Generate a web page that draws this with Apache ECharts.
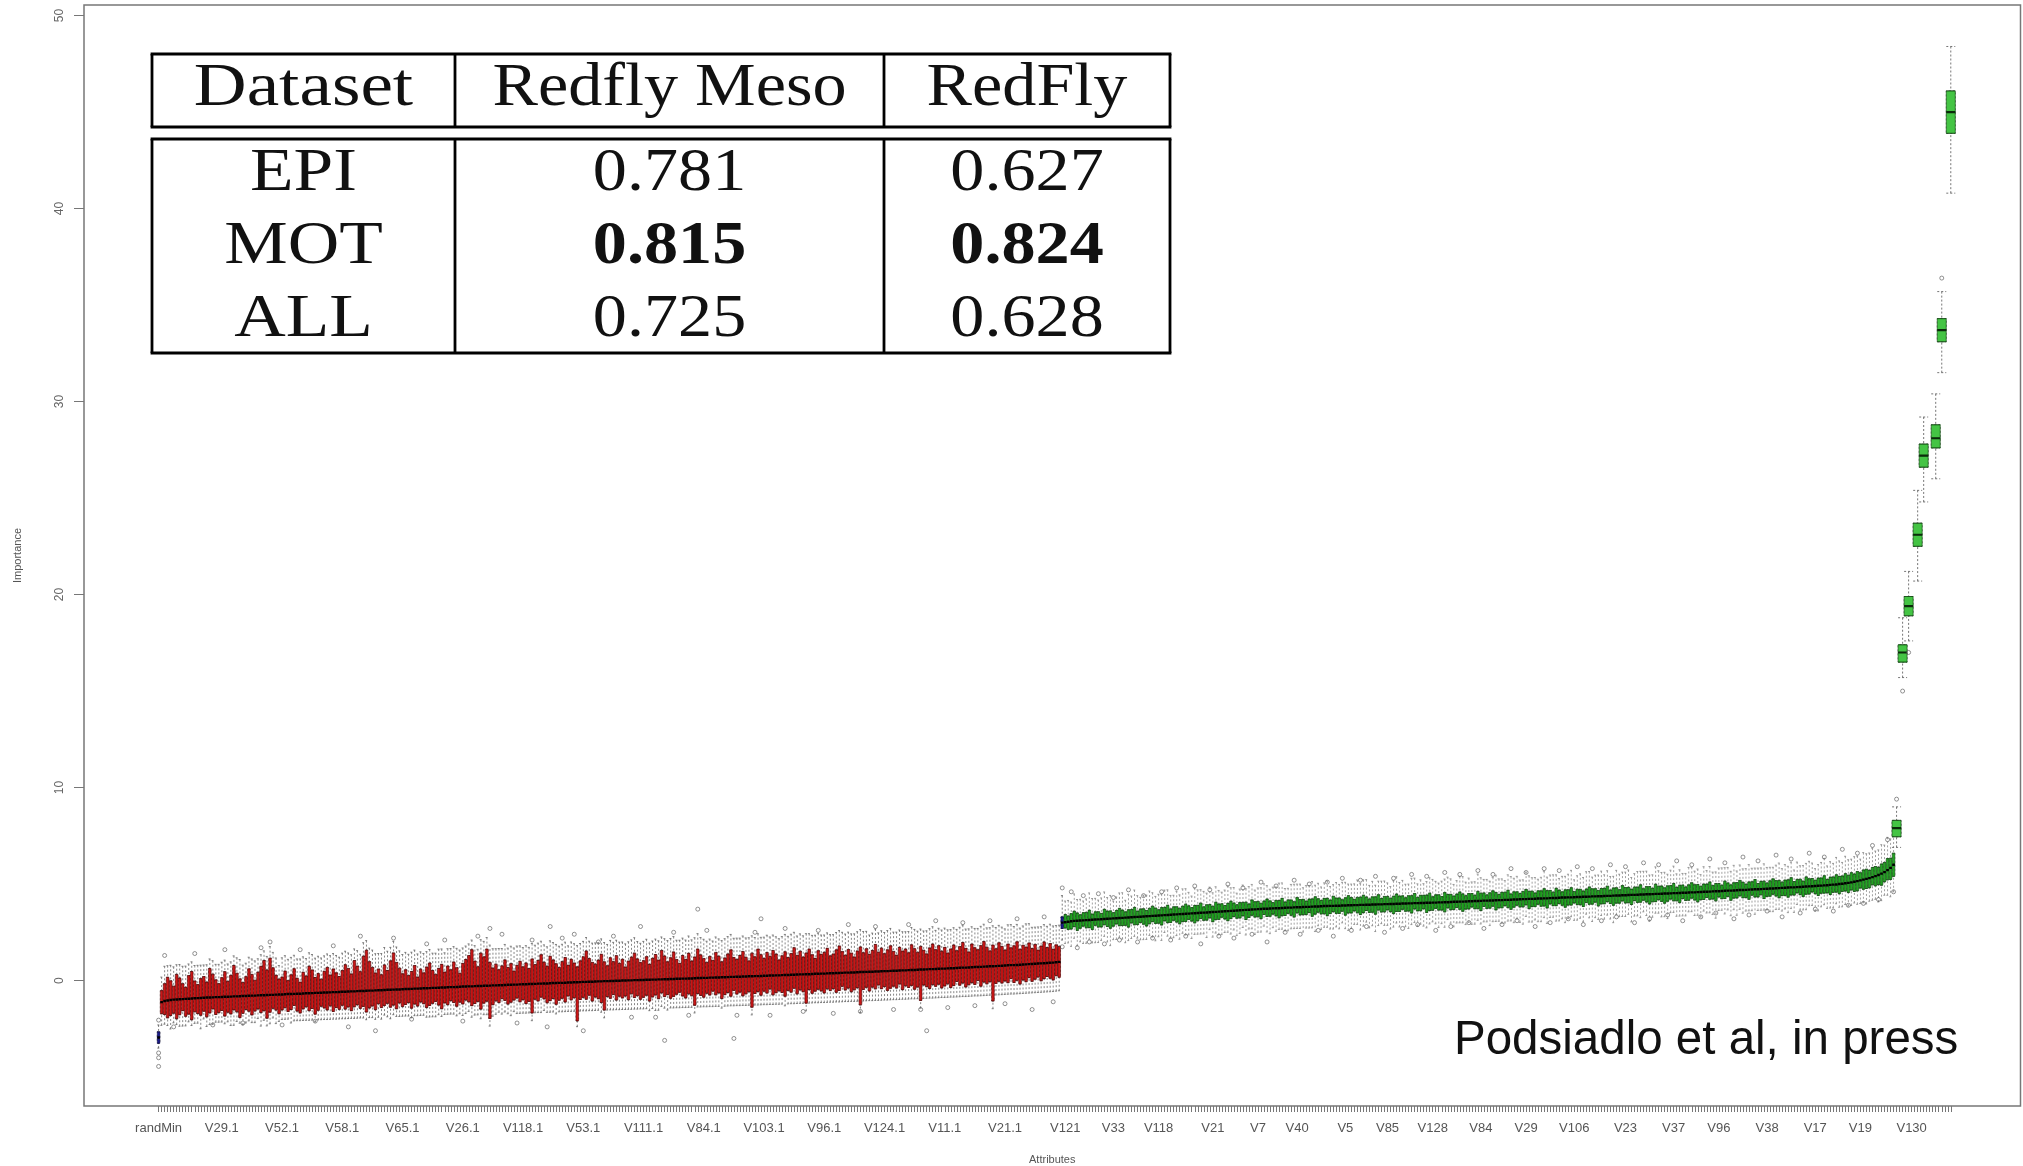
<!DOCTYPE html>
<html>
<head>
<meta charset="utf-8">
<title>Attribute importance</title>
<script src="https://cdn.jsdelivr.net/npm/echarts@6/dist/echarts.min.js"></script>
<style>
  html, body { margin: 0; padding: 0; background: #fff; }
  #chart { width: 2023px; height: 1166px; }
</style>
</head>
<body>
<div id="chart"></div>
<script>
// ---------------- data ----------------
// x-axis labels that are printed, and the attribute position each one sits under
const tickLabels = ['randMin','V29.1','V52.1','V58.1','V65.1','V26.1','V118.1','V53.1','V111.1','V84.1',
  'V103.1','V96.1','V124.1','V11.1','V21.1','V121','V33','V118','V21','V7','V40','V5','V85','V128',
  'V84','V29','V106','V23','V37','V96','V38','V17','V19','V130'];
const tickLabelAt = [0,21,41,61,81,101,121,141,161,181,201,221,241,261,281,301,317,332,350,365,378,
  394,408,423,439,454,470,487,503,518,534,550,565,582];
const yTicks = [0, 10, 20, 30, 40, 50];
const attributeCount = 596;

// shadow attributes (randMin, randMax)
const shadowIdx = [0, 300];
const shadowLo  = [-3.5, 2.1];
const shadowQ1  = [-3.25, 2.7];
const shadowMed = [-2.95, 3.0];
const shadowQ3  = [-2.65, 3.3];
const shadowHi  = [-2.3, 4.4];

// rejected attributes (positions 1..299): medians and box / whisker extents
const redMedian = [
-1.12,-1.06,-1.03,-1.01,-0.99,-0.98,-0.97,-0.96,-0.95,-0.94,
-0.93,-0.92,-0.91,-0.90,-0.89,-0.88,-0.88,-0.87,-0.86,-0.86,
-0.85,-0.84,-0.84,-0.83,-0.82,-0.82,-0.81,-0.80,-0.80,-0.79,
-0.78,-0.78,-0.77,-0.76,-0.76,-0.75,-0.74,-0.74,-0.73,-0.72,
-0.72,-0.71,-0.70,-0.70,-0.69,-0.68,-0.68,-0.67,-0.66,-0.66,
-0.65,-0.64,-0.64,-0.63,-0.62,-0.62,-0.61,-0.60,-0.60,-0.59,
-0.58,-0.58,-0.57,-0.56,-0.56,-0.55,-0.54,-0.54,-0.53,-0.52,
-0.52,-0.51,-0.50,-0.50,-0.49,-0.48,-0.48,-0.47,-0.46,-0.46,
-0.45,-0.44,-0.44,-0.43,-0.42,-0.42,-0.41,-0.40,-0.40,-0.39,
-0.38,-0.38,-0.37,-0.36,-0.36,-0.35,-0.34,-0.34,-0.33,-0.32,
-0.31,-0.31,-0.30,-0.30,-0.29,-0.28,-0.28,-0.27,-0.27,-0.26,
-0.25,-0.25,-0.24,-0.24,-0.23,-0.22,-0.22,-0.21,-0.21,-0.20,
-0.19,-0.19,-0.18,-0.18,-0.17,-0.16,-0.16,-0.15,-0.15,-0.14,
-0.13,-0.13,-0.12,-0.12,-0.11,-0.10,-0.10,-0.09,-0.09,-0.08,
-0.07,-0.07,-0.06,-0.06,-0.05,-0.04,-0.04,-0.03,-0.03,-0.02,
-0.02,-0.01,-0.01,0.00,0.00,0.01,0.01,0.02,0.02,0.03,
0.03,0.04,0.04,0.05,0.05,0.06,0.06,0.07,0.07,0.08,
0.08,0.09,0.09,0.10,0.10,0.11,0.11,0.12,0.13,0.13,
0.14,0.14,0.15,0.15,0.16,0.16,0.17,0.17,0.18,0.19,
0.19,0.20,0.20,0.21,0.21,0.22,0.22,0.23,0.23,0.24,
0.25,0.25,0.26,0.26,0.27,0.27,0.28,0.29,0.29,0.30,
0.30,0.31,0.32,0.32,0.33,0.33,0.34,0.35,0.35,0.36,
0.36,0.37,0.38,0.38,0.39,0.39,0.40,0.41,0.41,0.42,
0.42,0.43,0.44,0.44,0.45,0.46,0.46,0.47,0.47,0.48,
0.49,0.49,0.50,0.51,0.51,0.52,0.53,0.53,0.54,0.55,
0.55,0.56,0.57,0.57,0.58,0.59,0.59,0.60,0.61,0.62,
0.62,0.63,0.64,0.64,0.65,0.66,0.67,0.67,0.68,0.69,
0.70,0.70,0.71,0.72,0.73,0.74,0.74,0.75,0.76,0.77,
0.78,0.79,0.80,0.80,0.81,0.82,0.83,0.84,0.85,0.86,
0.87,0.88,0.89,0.90,0.91,0.92,0.93,0.95,0.97];
// upper quartile minus median
const redBoxUp = [
0.6,0.9,1.2,1.0,0.7,1.3,1.1,0.8,0.6,1.2,1.4,0.9,0.7,1.0,1.1,0.8,1.5,1.2,0.9,0.7,
1.0,1.3,0.8,1.1,1.6,1.2,0.9,0.7,1.0,1.4,1.1,0.8,1.2,1.5,1.8,1.3,1.9,1.4,1.0,0.8,
0.9,1.2,0.7,1.0,1.3,0.8,0.6,1.1,0.9,1.4,1.2,0.8,1.0,0.7,1.1,1.3,0.9,1.2,1.0,0.8,
1.1,1.4,1.2,0.9,1.6,1.3,1.0,1.8,2.1,1.5,1.2,0.9,1.1,0.8,1.3,1.0,1.5,1.9,1.4,1.1,
0.8,1.0,0.7,0.9,1.2,0.6,1.0,0.8,1.1,1.3,0.9,0.7,1.0,1.2,0.8,1.1,0.9,1.3,1.0,0.7,
1.2,1.4,1.6,1.9,1.3,1.0,1.7,1.5,1.9,1.2,0.9,1.1,0.8,1.0,1.3,0.9,1.1,0.7,1.0,1.2,
0.9,1.1,0.8,1.3,1.0,1.2,1.5,1.1,0.9,1.4,1.2,1.0,0.8,1.1,1.3,0.9,1.2,1.0,0.8,1.1,
1.3,1.6,1.2,1.0,0.9,1.1,1.4,1.0,0.8,1.2,1.0,1.3,0.9,1.1,0.7,1.0,1.2,1.4,1.1,0.9,
1.0,1.2,0.8,1.1,1.3,1.0,1.5,1.2,0.9,1.1,1.4,1.0,0.8,1.2,1.0,1.3,0.9,1.1,1.5,1.2,
1.0,0.8,1.1,0.9,1.3,1.1,0.8,1.0,1.2,1.4,1.0,0.9,1.1,1.3,1.0,0.8,1.2,1.0,1.4,1.1,
0.9,1.2,1.0,1.3,1.1,0.8,1.0,1.2,0.9,1.1,1.4,1.0,1.2,0.9,1.1,1.3,1.0,0.8,1.2,1.0,
1.1,1.3,0.9,1.0,1.2,1.4,1.1,0.9,1.2,1.0,0.8,1.1,1.3,1.0,1.2,0.9,1.1,1.4,1.0,1.2,
0.9,1.1,1.3,1.0,0.8,1.2,1.0,1.1,0.9,1.3,1.1,0.9,1.2,1.0,0.8,1.1,1.3,1.0,1.2,0.9,
1.1,0.8,1.0,1.2,0.9,1.1,1.3,1.0,0.8,1.2,1.0,0.9,1.1,1.3,1.0,0.8,1.1,0.9,1.2,1.0,
0.8,1.1,0.9,1.0,1.2,0.8,1.0,0.9,1.1,0.8,1.0,0.7,0.9,1.1,0.8,1.0,0.7,0.9,0.8];
// median minus lower quartile
const redBoxDown = [
0.6,0.7,0.9,0.8,0.7,1.0,0.8,0.6,0.9,0.8,1.1,0.7,0.8,0.9,0.7,1.0,0.8,0.6,0.9,0.8,
0.7,1.0,0.8,0.9,0.7,0.8,1.1,0.9,0.7,0.8,1.0,0.8,0.7,0.9,0.8,1.2,0.9,0.7,0.8,1.0,
0.8,0.7,0.9,0.8,0.6,0.9,1.0,0.8,0.7,0.9,0.8,1.1,0.9,0.7,0.8,0.9,0.7,1.0,0.8,0.9,
0.7,0.9,0.8,1.0,0.8,0.7,0.9,0.8,1.1,0.9,0.8,1.0,0.7,0.9,0.8,0.7,0.9,0.8,1.0,0.7,
0.9,0.8,0.7,1.0,0.8,0.9,0.7,0.8,1.0,0.9,0.8,0.7,0.9,1.1,0.8,0.9,0.7,0.8,1.0,0.8,
0.9,0.7,0.8,1.0,0.9,0.8,1.2,0.9,0.8,1.7,1.0,0.8,0.9,0.7,0.8,1.0,0.9,0.8,0.7,0.9,
0.8,1.0,0.9,1.5,0.8,0.9,0.7,0.8,1.0,0.9,0.8,1.1,0.9,0.8,1.0,0.7,0.9,0.8,2.0,0.9,
0.8,0.9,0.7,1.0,0.8,0.9,1.1,1.5,0.8,0.9,0.7,1.0,0.8,0.9,0.8,1.0,0.7,0.9,0.8,1.0,
0.9,0.8,1.1,0.9,0.8,1.0,0.7,0.9,0.8,1.0,0.9,0.8,0.7,0.9,1.0,0.8,0.9,1.4,0.8,0.9,
1.0,0.8,0.9,0.7,0.9,0.8,1.1,0.9,0.8,1.0,0.7,0.9,0.8,1.0,0.9,0.8,1.6,0.9,0.8,1.0,
0.8,0.9,0.7,1.0,0.9,0.8,0.9,1.1,0.8,0.9,0.7,1.0,0.8,0.9,1.5,0.8,1.0,0.9,0.8,0.9,
1.0,0.8,0.9,0.8,1.0,0.9,0.7,0.9,0.8,1.0,0.9,0.8,1.7,0.9,0.8,1.0,0.8,0.9,0.7,0.9,
0.8,1.0,0.9,0.8,0.9,0.7,1.0,0.8,0.9,0.8,1.0,0.9,1.6,0.8,0.9,1.0,0.8,0.9,0.8,1.0,
0.9,0.8,1.0,0.9,0.7,0.9,0.8,1.0,0.9,0.8,0.9,0.7,1.0,0.8,0.9,0.8,1.8,0.9,0.8,0.9,
0.8,0.9,0.7,0.9,0.8,1.0,0.8,0.9,0.7,0.9,0.8,0.7,0.9,0.8,0.7,0.8,0.9,0.7,0.8];
// upper whisker end minus upper quartile
const redWhiskHi = [
0.7,0.9,0.6,0.8,1.0,0.5,0.7,0.9,1.1,0.6,0.5,0.8,1.0,0.7,0.6,0.9,0.5,0.7,0.8,1.0,
0.8,0.6,0.9,0.7,0.5,0.8,1.0,0.9,0.7,0.6,0.8,1.0,0.7,0.6,0.5,0.7,0.6,0.8,0.9,0.7,
1.0,0.8,1.1,0.9,0.7,1.0,1.2,0.8,0.9,0.7,0.8,1.0,0.9,1.1,0.8,0.7,1.0,0.8,0.9,1.0,
0.9,0.7,0.8,1.0,0.6,0.8,0.9,0.7,0.5,0.7,0.9,1.0,0.8,1.1,0.9,1.0,0.7,0.6,0.8,0.9,
1.0,0.9,1.1,1.0,0.8,1.2,0.9,1.0,0.8,0.7,0.9,1.1,1.0,0.8,1.0,0.9,1.1,0.8,1.0,1.2,
0.8,0.7,0.6,0.5,0.8,0.9,0.7,0.8,0.6,0.9,1.0,0.8,1.1,0.9,0.8,1.0,0.9,1.2,1.0,0.8,
1.0,0.9,1.1,0.8,1.0,0.9,0.7,0.9,1.0,0.8,0.9,1.0,1.1,0.9,0.8,1.0,0.9,1.0,1.1,0.9,
0.8,0.7,0.9,1.0,1.1,0.9,0.8,1.0,1.1,0.9,1.0,0.8,1.1,0.9,1.2,1.0,0.9,0.8,0.9,1.0,
1.0,0.9,1.1,0.9,0.8,1.0,0.7,0.9,1.1,1.0,0.8,1.0,1.2,0.9,1.0,0.9,1.1,1.0,0.8,0.9,
1.0,1.1,0.9,1.0,0.8,0.9,1.1,1.0,0.9,0.8,1.0,1.1,0.9,0.8,1.0,1.2,0.9,1.0,0.8,0.9,
1.1,0.9,1.0,0.8,0.9,1.1,1.0,0.9,1.1,1.0,0.8,1.0,0.9,1.1,1.0,0.8,1.0,1.2,0.9,1.0,
0.9,0.8,1.1,1.0,0.9,0.8,1.0,1.1,0.9,1.0,1.2,1.0,0.9,1.1,0.9,1.0,0.9,0.8,1.0,0.9,
1.1,1.0,0.9,1.0,1.2,0.9,1.0,0.9,1.1,0.9,1.0,1.1,0.9,1.0,1.2,1.0,0.9,1.0,0.9,1.1,
1.0,1.2,1.0,0.9,1.1,1.0,0.9,1.0,1.2,0.9,1.0,1.1,1.0,0.9,1.0,1.2,1.0,1.1,0.9,1.0,
1.1,1.0,1.2,1.0,0.9,1.1,1.0,1.2,1.0,1.1,0.9,1.2,1.0,0.9,1.1,1.0,1.2,1.0,1.1];
// lower quartile minus lower whisker end
const redWhiskLo = [
0.6,0.5,0.4,0.7,0.5,0.3,0.6,0.8,0.5,0.4,0.3,0.6,0.5,0.7,0.4,0.5,0.6,0.8,0.4,0.5,
0.6,0.4,0.5,0.6,0.8,0.5,0.3,0.6,0.7,0.5,0.4,0.6,0.5,0.7,0.5,0.4,0.6,0.5,0.7,0.4,
0.5,0.6,0.4,0.7,0.8,0.5,0.4,0.6,0.7,0.5,0.6,0.4,0.5,0.7,0.6,0.5,0.7,0.4,0.6,0.5,
0.7,0.5,0.6,0.4,0.6,0.7,0.5,0.6,0.4,0.5,0.6,0.5,0.7,0.6,0.5,0.7,0.6,0.5,0.4,0.7,
0.5,0.6,0.7,0.5,0.6,0.5,0.7,0.6,0.5,0.6,0.7,0.8,0.5,0.4,0.6,0.5,0.7,0.6,0.5,0.6,
0.6,0.7,0.5,0.6,0.6,0.7,0.5,0.6,0.7,0.4,0.6,0.7,0.5,0.8,0.6,0.5,0.7,0.6,0.8,0.6,
0.7,0.5,0.6,0.4,0.7,0.6,0.8,0.6,0.5,0.6,0.7,0.5,0.6,0.7,0.5,0.8,0.6,0.7,0.3,0.6,
0.7,0.6,0.8,0.5,0.7,0.6,0.5,0.4,0.7,0.6,0.8,0.5,0.7,0.6,0.7,0.5,0.8,0.6,0.7,0.5,
0.6,0.7,0.5,0.6,0.8,0.6,0.7,0.6,0.8,0.5,0.6,0.7,0.8,0.6,0.5,0.7,0.6,0.4,0.7,0.6,
0.5,0.7,0.6,0.8,0.6,0.7,0.5,0.6,0.7,0.5,0.8,0.6,0.7,0.5,0.6,0.7,0.4,0.6,0.7,0.5,
0.7,0.6,0.8,0.5,0.6,0.7,0.6,0.5,0.7,0.6,0.8,0.5,0.7,0.6,0.4,0.7,0.5,0.6,0.7,0.6,
0.5,0.7,0.6,0.7,0.5,0.6,0.8,0.6,0.7,0.5,0.6,0.7,0.4,0.6,0.7,0.5,0.7,0.6,0.8,0.6,
0.7,0.5,0.6,0.7,0.6,0.8,0.5,0.7,0.6,0.7,0.5,0.6,0.4,0.7,0.6,0.5,0.7,0.6,0.7,0.5,
0.6,0.7,0.5,0.6,0.8,0.6,0.7,0.5,0.6,0.7,0.6,0.8,0.5,0.7,0.6,0.7,0.4,0.6,0.7,0.6,
0.7,0.6,0.8,0.6,0.7,0.5,0.7,0.6,0.8,0.6,0.7,0.8,0.6,0.7,0.8,0.7,0.6,0.8,0.7];

// confirmed attributes (positions 301..576)
const greenMedian = [
3.02,3.05,3.07,3.09,3.10,3.11,3.12,3.13,3.14,3.15,3.16,3.17,3.18,3.19,3.20,3.21,3.22,3.23,3.24,3.25,
3.26,3.27,3.28,3.29,3.30,3.31,3.32,3.33,3.34,3.35,3.36,3.37,3.38,3.39,3.40,3.41,3.42,3.43,3.44,3.45,
3.46,3.47,3.48,3.49,3.50,3.51,3.52,3.53,3.54,3.55,3.56,3.57,3.58,3.59,3.60,3.61,3.62,3.63,3.64,3.65,
3.66,3.67,3.68,3.69,3.70,3.71,3.72,3.72,3.73,3.74,3.75,3.75,3.76,3.77,3.78,3.78,3.79,3.80,3.80,3.81,
3.82,3.82,3.83,3.84,3.84,3.85,3.86,3.86,3.87,3.87,3.88,3.88,3.89,3.89,3.90,3.90,3.91,3.91,3.92,3.92,
3.93,3.93,3.94,3.94,3.95,3.95,3.96,3.96,3.97,3.97,3.98,3.98,3.99,3.99,4.00,4.00,4.01,4.01,4.02,4.02,
4.03,4.03,4.04,4.04,4.05,4.05,4.06,4.06,4.07,4.08,4.08,4.09,4.09,4.10,4.11,4.11,4.12,4.12,4.13,4.14,
4.14,4.15,4.15,4.16,4.17,4.17,4.18,4.18,4.19,4.20,4.20,4.21,4.22,4.22,4.23,4.23,4.24,4.25,4.25,4.26,
4.26,4.27,4.28,4.28,4.29,4.30,4.30,4.31,4.31,4.32,4.33,4.33,4.34,4.34,4.35,4.36,4.36,4.37,4.37,4.38,
4.39,4.39,4.40,4.41,4.41,4.42,4.42,4.43,4.44,4.44,4.45,4.46,4.46,4.47,4.47,4.48,4.49,4.49,4.50,4.51,
4.51,4.52,4.53,4.53,4.54,4.55,4.55,4.56,4.57,4.57,4.58,4.59,4.60,4.60,4.61,4.62,4.63,4.63,4.64,4.65,
4.66,4.66,4.67,4.68,4.69,4.69,4.70,4.71,4.72,4.73,4.73,4.74,4.75,4.76,4.77,4.77,4.78,4.79,4.80,4.81,
4.82,4.83,4.83,4.84,4.85,4.86,4.87,4.88,4.89,4.90,4.91,4.92,4.93,4.94,4.96,4.97,4.98,5.00,5.02,5.04,
5.06,5.09,5.12,5.15,5.19,5.23,5.27,5.31,5.36,5.41,5.47,5.54,5.62,5.72,5.84,6.00];
const greenBoxUp = [
0.4,0.3,0.4,0.5,0.4,0.3,0.4,0.4,0.5,0.3,0.4,0.4,0.3,0.5,0.4,0.4,0.3,0.4,0.5,0.4,
0.3,0.4,0.4,0.5,0.3,0.4,0.4,0.3,0.4,0.5,0.4,0.3,0.4,0.4,0.5,0.3,0.4,0.4,0.3,0.4,
0.5,0.4,0.3,0.4,0.4,0.5,0.3,0.4,0.4,0.3,0.5,0.4,0.4,0.3,0.4,0.5,0.4,0.3,0.4,0.4,
0.4,0.3,0.5,0.4,0.4,0.3,0.4,0.5,0.4,0.3,0.4,0.4,0.5,0.3,0.4,0.4,0.3,0.5,0.4,0.4,
0.3,0.4,0.4,0.5,0.4,0.3,0.4,0.4,0.3,0.5,0.4,0.4,0.3,0.4,0.5,0.4,0.3,0.4,0.4,0.5,
0.4,0.3,0.4,0.4,0.5,0.3,0.4,0.4,0.3,0.4,0.5,0.4,0.4,0.3,0.4,0.4,0.5,0.3,0.4,0.4,
0.4,0.5,0.3,0.4,0.4,0.3,0.5,0.4,0.4,0.3,0.4,0.5,0.4,0.3,0.4,0.4,0.3,0.5,0.4,0.4,
0.3,0.4,0.5,0.4,0.3,0.4,0.4,0.5,0.3,0.4,0.4,0.3,0.4,0.5,0.4,0.4,0.3,0.4,0.4,0.5,
0.4,0.4,0.3,0.5,0.4,0.3,0.4,0.4,0.5,0.3,0.4,0.4,0.3,0.4,0.5,0.4,0.4,0.3,0.4,0.4,
0.5,0.3,0.4,0.4,0.3,0.5,0.4,0.4,0.3,0.4,0.4,0.5,0.3,0.4,0.4,0.3,0.5,0.4,0.4,0.3,
0.4,0.4,0.5,0.3,0.4,0.4,0.3,0.4,0.5,0.4,0.4,0.3,0.4,0.4,0.5,0.3,0.4,0.4,0.3,0.5,
0.4,0.3,0.4,0.4,0.5,0.4,0.3,0.4,0.4,0.5,0.3,0.4,0.4,0.3,0.4,0.5,0.4,0.4,0.3,0.4,
0.4,0.5,0.3,0.4,0.4,0.3,0.5,0.4,0.4,0.3,0.4,0.4,0.5,0.3,0.4,0.4,0.5,0.4,0.4,0.5,
0.4,0.5,0.4,0.5,0.4,0.5,0.5,0.4,0.5,0.5,0.4,0.5,0.5,0.6,0.5,0.6];
const greenBoxDown = [
0.3,0.4,0.4,0.3,0.5,0.4,0.3,0.4,0.4,0.5,0.3,0.4,0.4,0.3,0.4,0.5,0.4,0.3,0.4,0.4,
0.4,0.5,0.3,0.4,0.4,0.3,0.4,0.5,0.4,0.3,0.4,0.4,0.5,0.3,0.4,0.4,0.3,0.4,0.5,0.4,
0.4,0.3,0.4,0.5,0.4,0.3,0.4,0.4,0.3,0.5,0.4,0.4,0.3,0.4,0.5,0.4,0.3,0.4,0.4,0.3,
0.5,0.4,0.3,0.4,0.4,0.5,0.3,0.4,0.4,0.3,0.4,0.5,0.4,0.4,0.3,0.4,0.5,0.3,0.4,0.4,
0.4,0.3,0.5,0.4,0.3,0.4,0.4,0.5,0.4,0.3,0.4,0.4,0.3,0.5,0.4,0.4,0.3,0.4,0.5,0.4,
0.3,0.4,0.4,0.5,0.3,0.4,0.4,0.3,0.4,0.5,0.4,0.4,0.3,0.4,0.4,0.5,0.3,0.4,0.4,0.3,
0.5,0.4,0.4,0.3,0.4,0.4,0.5,0.3,0.4,0.4,0.3,0.4,0.5,0.4,0.4,0.3,0.4,0.4,0.5,0.3,
0.4,0.4,0.3,0.5,0.4,0.4,0.3,0.4,0.5,0.4,0.3,0.4,0.4,0.3,0.5,0.4,0.4,0.3,0.4,0.4,
0.5,0.3,0.4,0.4,0.3,0.4,0.5,0.4,0.4,0.3,0.4,0.4,0.5,0.3,0.4,0.4,0.3,0.5,0.4,0.4,
0.3,0.4,0.5,0.4,0.4,0.3,0.4,0.4,0.5,0.3,0.4,0.4,0.3,0.4,0.5,0.4,0.4,0.3,0.4,0.5,
0.4,0.3,0.4,0.4,0.5,0.3,0.4,0.4,0.3,0.4,0.5,0.4,0.4,0.3,0.4,0.4,0.5,0.3,0.4,0.4,
0.3,0.5,0.4,0.4,0.3,0.4,0.4,0.5,0.3,0.4,0.4,0.3,0.5,0.4,0.4,0.3,0.4,0.5,0.4,0.4,
0.5,0.4,0.4,0.3,0.4,0.5,0.4,0.4,0.3,0.4,0.5,0.4,0.4,0.4,0.5,0.4,0.4,0.5,0.4,0.4,
0.5,0.4,0.5,0.5,0.4,0.5,0.5,0.5,0.4,0.5,0.5,0.6,0.5,0.5,0.6,0.6];
const greenWhiskHi = [
0.7,0.8,0.6,0.9,0.7,0.8,0.6,0.7,0.9,0.8,0.7,0.6,0.8,0.9,0.7,0.8,0.6,0.7,0.8,0.9,
0.6,0.8,0.7,0.9,0.8,0.6,0.7,0.8,0.9,0.7,0.6,0.8,0.7,0.9,0.8,0.7,0.6,0.8,0.7,0.9,
0.8,0.7,0.6,0.9,0.8,0.7,0.8,0.6,0.9,0.7,0.8,0.7,0.6,0.8,0.9,0.7,0.8,0.6,0.7,0.9,
0.7,0.9,0.8,0.6,0.7,0.8,0.9,0.7,0.6,0.8,0.7,0.9,0.8,0.7,0.6,0.8,0.9,0.7,0.8,0.6,
0.8,0.7,0.9,0.6,0.8,0.7,0.8,0.9,0.7,0.6,0.8,0.7,0.9,0.8,0.6,0.7,0.8,0.9,0.7,0.8,
0.9,0.7,0.8,0.6,0.7,0.9,0.8,0.7,0.6,0.8,0.9,0.7,0.8,0.7,0.6,0.9,0.8,0.7,0.8,0.6,
0.7,0.8,0.9,0.7,0.6,0.8,0.7,0.9,0.8,0.6,0.7,0.8,0.9,0.7,0.8,0.6,0.7,0.9,0.8,0.7,
0.8,0.6,0.7,0.9,0.8,0.7,0.6,0.8,0.9,0.7,0.8,0.7,0.6,0.9,0.8,0.7,0.8,0.6,0.7,0.9,
0.7,0.8,0.9,0.7,0.6,0.8,0.7,0.8,0.9,0.6,0.7,0.8,0.7,0.9,0.8,0.6,0.7,0.8,0.9,0.7,
0.8,0.7,0.6,0.9,0.8,0.7,0.8,0.9,0.6,0.7,0.8,0.7,0.9,0.8,0.6,0.7,0.9,0.8,0.7,0.8,
0.6,0.8,0.9,0.7,0.8,0.6,0.7,0.9,0.8,0.7,0.8,0.6,0.9,0.7,0.8,0.7,0.6,0.8,0.9,0.7,
0.8,0.7,0.9,0.6,0.8,0.7,0.8,0.9,0.7,0.6,0.8,0.7,0.9,0.8,0.7,0.6,0.8,0.9,0.7,0.8,
0.7,0.8,0.6,0.9,0.7,0.8,0.7,0.9,0.8,0.6,0.7,0.8,0.9,0.7,0.8,0.7,0.9,0.8,0.7,0.9,
0.8,0.7,0.9,0.8,0.7,0.9,0.8,0.9,1.0,0.8,0.9,1.0,0.9,1.1,1.0,1.2];
const greenWhiskLo = [
0.8,0.7,0.9,0.6,0.8,0.7,0.9,0.8,0.6,0.7,0.9,0.8,0.7,0.6,0.8,0.9,0.7,0.8,0.6,0.7,
0.9,0.7,0.8,0.6,0.7,0.9,0.8,0.7,0.6,0.8,0.9,0.7,0.8,0.6,0.7,0.8,0.9,0.7,0.8,0.6,
0.7,0.8,0.9,0.6,0.7,0.8,0.7,0.9,0.6,0.8,0.7,0.8,0.9,0.7,0.6,0.8,0.7,0.9,0.8,0.6,
0.8,0.6,0.7,0.9,0.8,0.7,0.6,0.8,0.9,0.7,0.8,0.6,0.7,0.8,0.9,0.7,0.6,0.8,0.7,0.9,
0.7,0.8,0.6,0.9,0.7,0.8,0.7,0.6,0.8,0.9,0.7,0.8,0.6,0.7,0.9,0.8,0.7,0.6,0.8,0.7,
0.6,0.8,0.7,0.9,0.8,0.6,0.7,0.8,0.9,0.7,0.6,0.8,0.7,0.8,0.9,0.6,0.7,0.8,0.7,0.9,
0.8,0.7,0.6,0.8,0.9,0.7,0.8,0.6,0.7,0.9,0.8,0.7,0.6,0.8,0.7,0.9,0.8,0.6,0.7,0.8,
0.7,0.9,0.8,0.6,0.7,0.8,0.9,0.7,0.6,0.8,0.7,0.8,0.9,0.6,0.7,0.8,0.7,0.9,0.8,0.6,
0.8,0.7,0.6,0.8,0.9,0.7,0.8,0.7,0.6,0.9,0.8,0.7,0.8,0.6,0.7,0.9,0.8,0.7,0.6,0.8,
0.7,0.8,0.9,0.6,0.7,0.8,0.7,0.6,0.9,0.8,0.7,0.8,0.6,0.7,0.9,0.8,0.6,0.7,0.8,0.7,
0.9,0.7,0.6,0.8,0.7,0.9,0.8,0.6,0.7,0.8,0.7,0.9,0.6,0.8,0.7,0.8,0.9,0.7,0.6,0.8,
0.7,0.8,0.6,0.9,0.7,0.8,0.7,0.6,0.8,0.9,0.7,0.8,0.6,0.7,0.8,0.9,0.7,0.6,0.8,0.7,
0.8,0.7,0.9,0.6,0.8,0.7,0.8,0.6,0.7,0.9,0.8,0.7,0.6,0.8,0.7,0.8,0.6,0.7,0.8,0.7,
0.7,0.8,0.6,0.7,0.8,0.7,0.8,0.7,0.8,0.7,0.9,0.8,0.7,0.8,0.9,0.8];

// the strongest confirmed attributes, each with its own stats
const topIdx = [577, 579, 581, 584, 586, 590, 592, 595];
const topLo  = [6.9, 15.7, 17.6, 20.7, 24.8, 26.0, 31.5, 40.8];
const topQ1  = [7.45, 16.5, 18.9, 22.5, 26.6, 27.6, 33.1, 43.9];
const topMed = [7.9, 17.0, 19.4, 23.1, 27.2, 28.1, 33.7, 45.0];
const topQ3  = [8.3, 17.4, 19.9, 23.7, 27.8, 28.8, 34.3, 46.1];
const topHi  = [9.0, 18.8, 21.2, 25.4, 29.2, 30.4, 35.7, 48.4];

// outlying importance runs: [attribute position, importance]
const shadowOutliers = [[0,-3.75],[0,-4.0],[0,-4.45],[0,-2.05],[300,4.8],[300,1.75]];
const rejectedOutliers = [[2,1.3],[5,-2.4],[12,1.4],[18,-2.3],[22,1.6],[28,-2.2],[34,1.7],[37,2.0],
  [41,-2.3],[47,1.6],[52,-2.1],[58,1.8],[63,-2.4],[67,2.3],[72,-2.6],[78,2.2],[84,-2.0],[89,1.9],
  [95,2.1],[101,-2.1],[106,2.3],[110,2.7],[114,2.4],[119,-2.2],[124,2.1],[129,-2.4],[130,2.8],
  [134,2.2],[138,2.4],[141,-2.6],[146,2.0],[151,2.3],[157,-1.9],[160,2.8],[165,-1.9],[168,-3.1],
  [171,2.5],[176,-1.8],[179,3.7],[182,2.6],[191,-3.0],[192,-1.8],[198,2.5],[200,3.2],[203,-1.8],
  [208,2.7],[214,-1.6],[219,2.6],[224,-1.7],[229,2.9],[233,-1.6],[238,2.8],[244,-1.5],[249,2.9],
  [253,-1.5],[255,-2.6],[258,3.1],[262,-1.4],[267,3.0],[271,-1.3],[276,3.1],[281,-1.2],[285,3.2],
  [290,-1.5],[294,3.3],[297,-1.1]];
const confirmedOutliers = [[303,4.6],[305,1.7],[307,4.4],[309,2.0],[312,4.5],[314,1.9],[317,4.3],
  [319,2.1],[322,4.7],[325,2.0],[327,4.4],[330,2.2],[333,4.6],[336,2.1],[338,4.8],[341,2.3],[344,4.9],
  [346,1.9],[349,4.7],[352,2.3],[355,5.0],[357,2.2],[360,4.8],[363,2.4],[366,5.1],[368,2.0],[371,4.9],
  [374,2.5],[377,5.2],[379,2.4],[382,5.0],[385,2.6],[388,5.1],[390,2.3],[393,5.3],[396,2.6],[399,5.2],
  [401,2.8],[404,5.4],[407,2.5],[410,5.3],[413,2.7],[416,5.5],[418,2.9],[421,5.4],[424,2.6],[427,5.6],
  [429,2.8],[432,5.5],[435,3.0],[438,5.7],[440,2.7],[443,5.5],[446,2.9],[449,5.8],[451,3.1],[454,5.6],
  [457,2.8],[460,5.8],[462,3.0],[465,5.7],[468,3.2],[471,5.9],[473,2.9],[476,5.8],[479,3.1],[482,6.0],
  [484,3.3],[487,5.9],[490,3.0],[493,6.1],[495,3.2],[498,6.0],[501,3.4],[504,6.2],[506,3.1],[509,6.0],
  [512,3.3],[515,6.3],[517,3.5],[520,6.1],[523,3.2],[526,6.4],[528,3.4],[531,6.2],[534,3.6],[537,6.5],
  [539,3.3],[542,6.3],[545,3.5],[548,6.6],[550,3.7],[553,6.4],[556,3.6],[559,6.8],[561,3.9],[564,6.6],
  [566,4.0],[569,7.0],[571,4.2],[574,7.3],[576,4.6],[577,9.4],[579,15.0],[581,17.0],[592,36.4]];

// table printed over the plot
const tableHeader = ['Dataset', 'Redfly Meso', 'RedFly'];
const tableRows = ['EPI', 'MOT', 'ALL'];
const redflyMesoScore = [0.781, 0.815, 0.725];
const redFlyScore = [0.627, 0.824, 0.628];
const boldRow = 'MOT';
const citation = 'Podsiadlo et al, in press';

// ---------------- build ----------------
const FIRST_RED = 1, FIRST_GREEN = 301;
const FILL = { shadow: '#1b1b8c', rejected: '#c91616', confirmed: '#22a322' };
const EDGE = { shadow: '#00003a', rejected: '#4d0000', confirmed: '#0b3f0b' };
const WHISK = { shadow: '#444', rejected: '#555', confirmed: '#7a7a7a' };

const mainStats = new Array(attributeCount).fill(null);
shadowIdx.forEach((i, k) => {
  mainStats[i] = [shadowLo[k], shadowQ1[k], shadowMed[k], shadowQ3[k], shadowHi[k], 'shadow'];
});
redMedian.forEach((m, j) => {
  const q3 = m + redBoxUp[j], q1 = m - redBoxDown[j];
  mainStats[FIRST_RED + j] = [q1 - redWhiskLo[j], q1, m, q3, q3 + redWhiskHi[j], 'rejected'];
});
greenMedian.forEach((m, j) => {
  const q3 = m + greenBoxUp[j], q1 = m - greenBoxDown[j];
  mainStats[FIRST_GREEN + j] = [q1 - greenWhiskLo[j], q1, m, q3, q3 + greenWhiskHi[j], 'confirmed'];
});
const topStats = new Array(attributeCount).fill(null);
topIdx.forEach((i, k) => {
  topStats[i] = [topLo[k], topQ1[k], topMed[k], topQ3[k], topHi[k], 'confirmed'];
});

const EMPTY = ['-', '-', '-', '-', '-'];
const whiskerItems = (arr, color) => arr.map(s => s ? {
  value: [s[0], s[1], s[2], s[3], s[4]], itemStyle: { borderColor: color || WHISK[s[5]] } } : EMPTY);
const boxItems = (arr, fill) => arr.map(s => s ? {
  value: [s[1], s[1], s[2], s[3], s[3]],
  itemStyle: { color: fill || FILL[s[5]], borderColor: EDGE[s[5]] } } : EMPTY);
const medianItems = arr => arr.map(s => s ? [s[2], s[2], s[2], s[2], s[2]] : EMPTY);

const cats = Array.from({ length: attributeCount }, (_, i) => String(i));
const labelByIdx = {};
tickLabelAt.forEach((i, k) => { labelByIdx[i] = tickLabels[k]; });

const Y_MIN = -6.5, Y_MAX = 50.55;
const PLOT_TOP = 5, PLOT_H = 1101;
const SANS = "'Liberation Sans', Arial, sans-serif";
const SERIF = "'Liberation Serif', 'DejaVu Serif', serif";

function catAxis(visible) {
  return {
    type: 'category', gridIndex: 1, data: cats, boundaryGap: true, show: visible,
    position: 'bottom',
    axisLine: { show: false, onZero: false }, splitLine: { show: false },
    axisTick: { show: visible, interval: 0, alignWithLabel: true, length: 6,
      lineStyle: { color: '#777', width: 1 } },
    axisLabel: {
      show: visible,
      interval: (index) => labelByIdx[index] !== undefined,
      formatter: (value) => labelByIdx[+value] || '',
      fontSize: 13, color: '#555', fontFamily: SANS, margin: 16
    }
  };
}

const boxBase = { type: 'boxplot', yAxisIndex: 1, silent: true, animation: false,
  emphasis: { disabled: true } };

const series = [
  Object.assign({}, boxBase, { xAxisIndex: 1, boxWidth: [2.6, 2.6], z: 2,
    itemStyle: { color: 'rgba(0,0,0,0)', borderWidth: 0.7, borderType: [2, 2] },
    data: whiskerItems(mainStats) }),
  Object.assign({}, boxBase, { xAxisIndex: 2, boxWidth: [2.6, 2.6], z: 3,
    itemStyle: { borderWidth: 0.5 }, data: boxItems(mainStats) }),
  Object.assign({}, boxBase, { xAxisIndex: 3, boxWidth: [2.6, 2.6], z: 4,
    itemStyle: { color: '#000', borderColor: '#000', borderWidth: 2.4 },
    data: medianItems(mainStats) }),
  Object.assign({}, boxBase, { xAxisIndex: 4, boxWidth: [9, 9], z: 2,
    itemStyle: { color: 'rgba(0,0,0,0)', borderWidth: 0.9, borderType: [2, 2] },
    data: whiskerItems(topStats, '#666') }),
  Object.assign({}, boxBase, { xAxisIndex: 5, boxWidth: [9, 9], z: 3,
    itemStyle: { borderWidth: 0.6 }, data: boxItems(topStats, '#44c444') }),
  Object.assign({}, boxBase, { xAxisIndex: 6, boxWidth: [9, 9], z: 4,
    itemStyle: { color: '#000', borderColor: '#0b2b0b', borderWidth: 2.2 },
    data: medianItems(topStats) }),
  { type: 'scatter', xAxisIndex: 1, yAxisIndex: 1, silent: true, animation: false, z: 5,
    symbol: 'circle', symbolSize: 4,
    itemStyle: { color: 'rgba(0,0,0,0)', borderColor: '#555', borderWidth: 0.8 },
    data: shadowOutliers.concat(rejectedOutliers, confirmedOutliers) }
];

// table and citation drawn on top of the plot
const TABLE_X = [152, 455, 884, 1170];
const TABLE_BANDS = [[54, 127], [139, 353]];
const ROW_Y = [89, 174, 247, 320];
const graphic = [];
function rule(x1, y1, x2, y2) {
  return { type: 'line', silent: true, z: 100, shape: { x1, y1, x2, y2 },
    style: { stroke: '#000', lineWidth: 2.8 } };
}
TABLE_BANDS.forEach(([a, b]) => {
  graphic.push(rule(TABLE_X[0] - 1.4, a, TABLE_X[3] + 1.4, a));
  graphic.push(rule(TABLE_X[0] - 1.4, b, TABLE_X[3] + 1.4, b));
  TABLE_X.forEach(x => graphic.push(rule(x, a, x, b)));
});
function cell(text, col, row, bold, stretch) {
  return { type: 'text', silent: true, z: 101,
    x: (TABLE_X[col] + TABLE_X[col + 1]) / 2, y: ROW_Y[row], scaleX: stretch || 1.1,
    style: { text, fill: '#111', fontSize: 62, fontFamily: SERIF,
      fontWeight: bold ? 'bold' : 'normal', align: 'center', verticalAlign: 'middle' } };
}
tableHeader.forEach((h, c) => graphic.push(cell(h, c, 0, false, c === 0 ? 1.18 : 1.1)));
tableRows.forEach((name, r) => {
  const bold = name === boldRow;
  graphic.push(cell(name, 0, r + 1, false, 1.15));
  graphic.push(cell(redflyMesoScore[r].toFixed(3), 1, r + 1, bold));
  graphic.push(cell(redFlyScore[r].toFixed(3), 2, r + 1, bold));
});
graphic.push({ type: 'text', silent: true, z: 101, x: 1454, y: 1041,
  style: { text: citation, fill: '#111', fontSize: 47.5, fontFamily: SANS,
    align: 'left', verticalAlign: 'middle' } });

const option = {
  backgroundColor: '#fff',
  animation: false,
  grid: [
    { left: 84, top: PLOT_TOP, width: 1936.5, height: PLOT_H, show: true,
      borderColor: '#777', borderWidth: 1.5, backgroundColor: 'rgba(0,0,0,0)',
      containLabel: false, outerBoundsMode: 'none' },
    { left: 157.1, top: PLOT_TOP, width: 1795.2, height: PLOT_H,
      containLabel: false, outerBoundsMode: 'none' }
  ],
  xAxis: [
    { type: 'value', gridIndex: 0, min: 0, max: 1, position: 'bottom',
      axisLine: { show: false, onZero: false }, axisTick: { show: false }, axisLabel: { show: false },
      splitLine: { show: false },
      name: 'Attributes', nameLocation: 'middle', nameGap: 48,
      nameTextStyle: { fontSize: 11, color: '#555', fontFamily: SANS } },
    catAxis(true), catAxis(false), catAxis(false),
    catAxis(false), catAxis(false), catAxis(false)
  ],
  yAxis: [
    { type: 'value', gridIndex: 0, min: Y_MIN, max: Y_MAX,
      axisLine: { show: false, onZero: false }, splitLine: { show: false },
      axisTick: { show: true, length: 10, customValues: yTicks,
        lineStyle: { color: '#777', width: 1 } },
      axisLabel: { customValues: yTicks, rotate: 90, fontSize: 12, color: '#666',
        fontFamily: SANS, margin: 18 },
      name: 'Importance', nameLocation: 'middle', nameGap: 61, nameRotate: 90,
      nameTextStyle: { fontSize: 11, color: '#555', fontFamily: SANS } },
    { type: 'value', gridIndex: 1, min: Y_MIN, max: Y_MAX, show: false,
      splitLine: { show: false } }
  ],
  series,
  graphic
};

const chart = echarts.init(document.getElementById('chart'), null, { renderer: 'canvas' });
chart.setOption(option);
</script>
</body>
</html>
